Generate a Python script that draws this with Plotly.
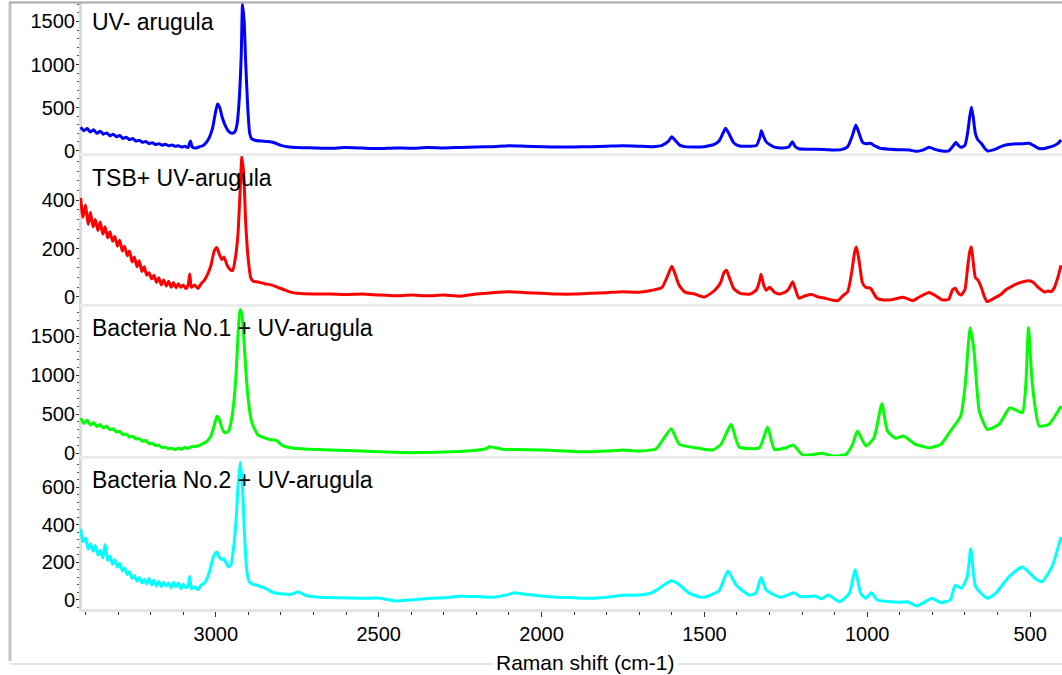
import plotly.graph_objects as go

# ---------------- spectra (Raman shift in cm-1, intensity in counts) ----------------
uv_shift = [3415, 3405, 3395, 3385, 3375, 3365, 3355, 3345, 3335, 3325, 3315, 3305, 3295, 3285,
            3275, 3265, 3255, 3245, 3235, 3225, 3215, 3205, 3195, 3185, 3175, 3165, 3155, 3145,
            3135, 3125, 3115, 3105, 3095, 3085, 3078, 3072, 3060, 3050, 3040, 3030, 3020, 3010,
            3003, 2995, 2988, 2980, 2970, 2960, 2950, 2942, 2935, 2928, 2922, 2918, 2913, 2908,
            2902, 2896, 2890, 2880, 2860, 2840, 2820, 2800, 2780, 2750, 2700, 2650, 2600, 2550,
            2500, 2450, 2400, 2350, 2300, 2250, 2200, 2150, 2100, 2050, 2000, 1950, 1900, 1850,
            1800, 1750, 1700, 1660, 1630, 1610, 1600, 1590, 1575, 1560, 1530, 1500, 1470, 1455,
            1443, 1435, 1425, 1410, 1395, 1360, 1340, 1330, 1325, 1318, 1310, 1300, 1285, 1260,
            1240, 1230, 1222, 1210, 1180, 1150, 1120, 1100, 1080, 1060, 1045, 1035, 1025, 1015,
            1005, 990, 975, 960, 930, 900, 870, 850, 830, 810, 790, 770, 750, 735, 728, 720, 712,
            700, 692, 685, 680, 675, 668, 660, 650, 640, 630, 610, 590, 575, 550, 520, 503, 490,
            475, 460, 445, 430, 415, 405]
uv_counts = [270, 230, 255, 215, 240, 200, 225, 190, 205, 170, 190, 160, 175, 140,
             155, 125, 140, 110, 120, 95, 105, 80, 90, 70, 80, 62, 72, 55,
             65, 48, 55, 40, 50, 35, 110, 40, 30, 45, 55, 90, 150, 260,
             400, 540, 500, 380, 280, 220, 200, 215, 300, 600, 1100, 1700, 1500, 1000,
             500, 200, 135, 120, 110, 105, 90, 60, 45, 35, 30, 25, 35, 28,
             22, 30, 26, 34, 30, 36, 40, 45, 55, 50, 45, 40, 42, 45,
             50, 55, 50, 45, 60, 110, 160, 120, 60, 45, 40, 45, 70, 110,
             200, 258, 200, 90, 55, 50, 60, 150, 230, 160, 100, 70, 40, 30,
             45, 103, 50, 20, 15, 15, 8, 6, 10, 45, 180, 297, 200, 100,
             80, 84, 50, 26, 15, 8, 6, -10, 5, 37, 10, -6, -5, 60, 95, 60, 37,
             60, 200, 400, 502, 400, 200, 122, 84, 30, -6, 10, 45, 64, 75, 80, 84, 60,
             26, 20, 35, 52, 80, 122]

tsb_shift = [3415, 3408, 3400, 3392, 3385, 3377, 3370, 3362, 3355, 3347, 3340, 3332, 3325, 3317,
             3310, 3302, 3295, 3287, 3280, 3272, 3265, 3257, 3250, 3242, 3235, 3227, 3220, 3212,
             3205, 3197, 3190, 3182, 3175, 3167, 3160, 3152, 3145, 3137, 3130, 3122, 3115, 3107,
             3100, 3092, 3085, 3080, 3075, 3065, 3055, 3045, 3035, 3025, 3015, 3005, 2997, 2990,
             2982, 2975, 2965, 2955, 2948, 2940, 2932, 2926, 2920, 2914, 2908, 2900, 2893, 2885,
             2870, 2850, 2830, 2810, 2790, 2770, 2750, 2700, 2650, 2600, 2550, 2500, 2450, 2400,
             2350, 2300, 2250, 2200, 2150, 2100, 2050, 2000, 1950, 1900, 1850, 1800, 1750, 1700,
             1660, 1630, 1612, 1600, 1590, 1578, 1560, 1530, 1500, 1480, 1465, 1450, 1440, 1432,
             1422, 1410, 1390, 1360, 1340, 1330, 1326, 1318, 1310, 1300, 1285, 1270, 1250, 1240,
             1229, 1220, 1210, 1190, 1170, 1150, 1130, 1110, 1090, 1075, 1060, 1048, 1038, 1033,
             1025, 1015, 1005, 990, 980, 970, 950, 920, 890, 860, 840, 810, 790, 770, 750, 738,
             730, 720, 712, 700, 692, 685, 680, 675, 668, 660, 650, 640, 632, 610, 590, 575, 555,
             530, 503, 490, 475, 465, 455, 445, 435, 425, 415, 405]
tsb_counts = [410, 330, 380, 300, 350, 290, 320, 275, 310, 260, 290, 245, 270, 230,
              250, 210, 235, 190, 210, 170, 190, 145, 165, 125, 150, 105, 125, 90,
              100, 75, 90, 60, 80, 50, 70, 45, 65, 40, 60, 38, 55, 40,
              50, 35, 50, 95, 40, 50, 35, 55, 70, 95, 130, 190, 205, 180,
              155, 165, 130, 112, 110, 160, 260, 420, 580, 500, 300, 150, 80, 65,
              62, 55, 50, 40, 30, 20, 15, 12, 12, 10, 12, 8, 5, 8,
              5, 8, 3, 12, 18, 22, 18, 15, 12, 12, 15, 18, 22, 20,
              28, 40, 90, 127, 95, 50, 20, 12, 0, 15, 32, 60, 100, 111,
              75, 35, 15, 12, 30, 70, 94, 50, 28, 40, 20, 12, 22, 35,
              63, 30, -5, 5, 10, 0, -5, -12, -15, 5, 22, 100, 190, 207,
              150, 60, 40, 36, 15, -5, -12, -10, -1, -15, 0, 19, 5, -12, -10, 30,
              36, 15, 8, 30, 120, 190, 207, 150, 80, 70, 40, 0, -19, -5, 10, 29, 45,
              60, 67, 60, 40, 29, 20, 25, 22, 40, 80, 131]

b1_shift = [3415, 3405, 3395, 3385, 3375, 3365, 3355, 3345, 3335, 3325, 3315, 3305, 3295, 3285,
            3275, 3265, 3255, 3245, 3235, 3225, 3215, 3205, 3195, 3185, 3175, 3165, 3155, 3145,
            3135, 3125, 3115, 3105, 3095, 3085, 3075, 3065, 3055, 3045, 3035, 3025, 3015, 3005,
            2997, 2990, 2982, 2975, 2968, 2960, 2953, 2946, 2938, 2932, 2926, 2920, 2913, 2906,
            2898, 2890, 2880, 2870, 2850, 2830, 2813, 2800, 2785, 2760, 2720, 2650, 2550, 2450,
            2400, 2350, 2300, 2250, 2200, 2170, 2160, 2145, 2120, 2080, 2000, 1950, 1900, 1850,
            1800, 1750, 1699, 1648, 1602, 1577, 1515, 1474, 1449, 1418, 1393, 1331, 1306, 1285,
            1249, 1227, 1198, 1137, 1106, 1065, 1045, 1030, 1004, 979, 955, 938, 912, 889, 851,
            810, 774, 748, 713, 699, 684, 672, 656, 631, 595, 562, 524, 513, 505, 493, 472, 442,
            405]
b1_counts = [450, 380, 420, 360, 390, 340, 365, 320, 345, 300, 310, 270, 280, 235,
             245, 205, 215, 180, 185, 150, 160, 120, 125, 95, 100, 70, 75, 55,
             60, 45, 60, 50, 70, 60, 80, 85, 90, 110, 130, 160, 220, 350,
             470, 440, 330, 270, 260, 290, 400, 600, 1000, 1500, 1840, 1780, 1400, 950,
             600, 400, 300, 230, 195, 170, 160, 110, 80, 60, 50, 40, 25, 10,
             5, 8, 12, 20, 35, 55, 80, 70, 50, 45, 40, 30, 20, 15,
             25, 40, 26, 55, 312, 111, 60, 38, 111, 368, 77, 68, 333, 47,
             68, 103, -26, -4, -38, -17, 111, 282, 90, 196, 632, 282, 188, 218, 111,
             68, 111, 260, 474, 881, 1607, 1308, 538, 303, 368, 581, 517, 881, 1607, 881, 346, 368,
             603]

b2_shift = [3415, 3408, 3400, 3392, 3385, 3377, 3370, 3362, 3355, 3347, 3340, 3332, 3325, 3317,
            3310, 3302, 3295, 3287, 3280, 3272, 3265, 3257, 3250, 3242, 3235, 3227, 3220, 3212,
            3205, 3197, 3190, 3182, 3175, 3167, 3160, 3152, 3145, 3137, 3130, 3122, 3115, 3107,
            3100, 3092, 3085, 3080, 3075, 3065, 3055, 3045, 3035, 3025, 3015, 3005, 2997, 2990,
            2982, 2975, 2968, 2960, 2953, 2946, 2938, 2932, 2925, 2918, 2912, 2905, 2898, 2890,
            2875, 2860, 2845, 2830, 2810, 2770, 2748, 2720, 2680, 2620, 2550, 2500, 2450, 2400,
            2350, 2300, 2250, 2200, 2150, 2100, 2083, 2050, 2000, 1950, 1900, 1850, 1800, 1750,
            1699, 1660, 1602, 1582, 1545, 1505, 1455, 1428, 1402, 1362, 1341, 1326, 1310, 1267,
            1224, 1205, 1159, 1140, 1120, 1084, 1055, 1037, 1020, 1004, 987, 969, 902, 877, 847,
            801, 776, 745, 730, 711, 693, 682, 667, 631, 606, 565, 524, 484, 463, 433, 405]
b2_counts = [380, 310, 330, 270, 300, 260, 290, 240, 265, 225, 295, 210, 235, 190,
             215, 175, 195, 155, 170, 135, 150, 115, 130, 100, 120, 90, 110, 85,
             115, 80, 105, 75, 100, 70, 95, 75, 90, 65, 95, 70, 90, 60,
             85, 65, 75, 125, 60, 70, 55, 80, 90, 120, 180, 240, 256, 230,
             215, 220, 195, 176, 190, 270, 420, 600, 735, 600, 350, 160, 100, 85,
             80, 70, 60, 45, 35, 30, 42, 22, 15, 12, 9, 10, -5, 0,
             8, 12, 20, 18, 15, 30, 39, 30, 21, 15, 12, 9, 15, 25,
             26, 39, 102, 88, 35, 14, 49, 155, 79, 26, 39, 120, 53, 14,
             39, 17, 21, 7, 26, -9, 35, 162, 35, 9, 39, 0, -12, -9, -32,
             9, -14, 0, 79, 62, 123, 273, 70, 9, 35, 123, 176, 115, 97, 176, 335]

panel_titles = ["UV- arugula", "TSB+ UV-arugula",
                "Bacteria No.1 + UV-arugula", "Bacteria No.2 + UV-arugula"]
line_colors = ["#0000ff", "#ff0000", "#00ff00", "#00ffff"]
y_ranges = [[-29, 1715], [-29, 583], [-38, 1872], [-48, 751]]
y_major = [500, 200, 500, 200]
x_title = "Raman shift (cm-1)"

# ---------------- page geometry (pixels) ----------------
W, H = 1062, 675
ML, MR, MT, MB = 80, 0, 3, 66
PW, PH = W - ML - MR, H - MT - MB


def px(xp):
    return (xp - ML) / PW


def py(yp):
    return (H - MB - yp) / PH


panels_px = [(3, 153), (156, 304), (307, 456), (459, 609)]
FONT = "Liberation Sans, Arial, sans-serif"

series = [(uv_shift, uv_counts), (tsb_shift, tsb_counts),
          (b1_shift, b1_counts), (b2_shift, b2_counts)]

fig = go.Figure()
for i, (xs, ys) in enumerate(series):
    fig.add_trace(go.Scatter(
        x=xs, y=ys, mode="lines",
        line=dict(color=line_colors[i], width=3, shape="spline", smoothing=0.5),
        xaxis="x", yaxis="y" if i == 0 else f"y{i + 1}",
        showlegend=False, hoverinfo="skip",
    ))

layout = dict(
    width=W, height=H,
    margin=dict(l=ML, r=MR, t=MT, b=MB, pad=0),
    paper_bgcolor="white", plot_bgcolor="white",
    font=dict(family=FONT, color="black", size=20),
    showlegend=False,
    xaxis=dict(
        range=[3417, 402], domain=[0, 1], anchor="y4",
        tickmode="linear", tick0=500, dtick=500,
        ticks="outside", ticklen=5, tickwidth=1, tickcolor="#333333",
        minor=dict(dtick=100, tick0=500, ticks="outside", ticklen=3,
                   tickwidth=1, tickcolor="#333333", showgrid=False),
        showline=True, linecolor="#e4e4e4", linewidth=3,
        showgrid=False, zeroline=False,
        tickfont=dict(size=20, family=FONT, color="black"),
    ),
)

for i in range(4):
    top, bot = panels_px[i]
    key = "yaxis" if i == 0 else f"yaxis{i + 1}"
    layout[key] = dict(
        domain=[py(bot), py(top)], range=y_ranges[i], anchor="x",
        tickmode="linear", tick0=0, dtick=y_major[i],
        ticks="outside", ticklen=3, tickwidth=1, tickcolor="#333333",
        minor=dict(dtick=y_major[i] / 5, ticks="outside", ticklen=2,
                   tickwidth=1, tickcolor="#555555", showgrid=False),
        showline=True, linecolor="#dadada", linewidth=1,
        showgrid=False, zeroline=False, ticklabelstandoff=-3,
        tickfont=dict(size=20, family=FONT, color="black"),
    )

fig.update_layout(**layout)

shapes = []
# light separators between stacked panels
for ysep in (154.5, 305.5, 457.5):
    shapes.append(dict(type="line", xref="paper", yref="paper",
                       x0=0, x1=1.02, y0=py(ysep), y1=py(ysep),
                       line=dict(color="#ececec", width=3), layer="above"))
# wide light band along the left edge of the panels
shapes.append(dict(type="line", xref="paper", yref="paper",
                   x0=px(80.5), x1=px(80.5), y0=py(3), y1=py(610),
                   line=dict(color="#dadada", width=3), layer="below"))
# outer frame
shapes.append(dict(type="line", xref="paper", yref="paper",
                   x0=px(10), x1=px(10), y0=py(2.5), y1=py(661),
                   line=dict(color="#c4c4c4", width=3)))
shapes.append(dict(type="line", xref="paper", yref="paper",
                   x0=px(9), x1=px(1062), y0=py(2.5), y1=py(2.5),
                   line=dict(color="#a8a8a8", width=2)))
shapes.append(dict(type="line", xref="paper", yref="paper",
                   x0=px(10), x1=px(1062), y0=py(664), y1=py(664),
                   line=dict(color="#e6e6e6", width=2)))
fig.update_layout(shapes=shapes)

label_y = [22, 178, 328, 480]
for i in range(4):
    fig.add_annotation(
        text=panel_titles[i], xref="paper", yref="paper",
        x=px(90), y=py(label_y[i]), xanchor="left", yanchor="middle",
        showarrow=False, font=dict(size=23, family=FONT, color="black"),
    )

fig.add_annotation(
    text=x_title, xref="paper", yref="paper",
    x=px(585), y=py(662), xanchor="center", yanchor="middle",
    showarrow=False, bgcolor="white", borderpad=2,
    font=dict(size=21, family=FONT, color="black"),
)

fig.write_html("out.html")
